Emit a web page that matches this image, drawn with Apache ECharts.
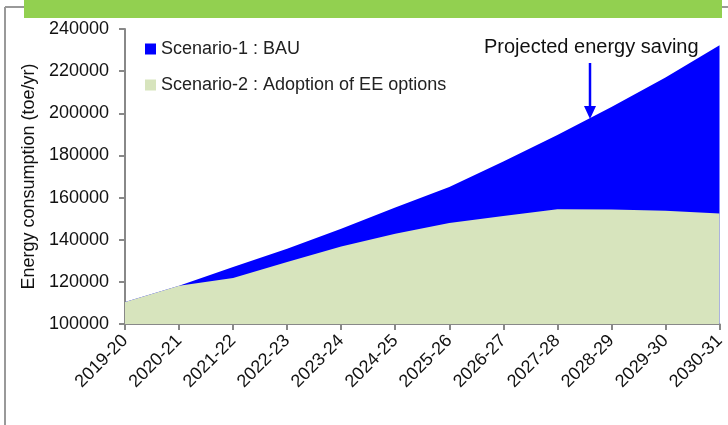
<!DOCTYPE html>
<html>
<head>
<meta charset="utf-8">
<script src="https://cdn.jsdelivr.net/npm/echarts@6/dist/echarts.min.js"></script>
<style>
  html, body { margin: 0; padding: 0; background: #fff; }
  #chart { width: 728px; height: 425px; }
</style>
</head>
<body>
<div id="chart"></div>
<script>
// data
const years = ['2019-20', '2020-21', '2021-22', '2022-23', '2023-24', '2024-25',
  '2025-26', '2026-27', '2027-28', '2028-29', '2029-30', '2030-31']
const bau = [110400, 118200, 127000, 135700, 145200, 155300,
  165000, 177100, 189700, 203000, 217000, 232300]
const eeOptions = [110400, 118200, 121800, 129400, 136800, 142800,
  147900, 151300, 154500, 154300, 153800, 152400]
const yTicks = [100000, 240000, 20000] // min, max, step

const font = 'Liberation Sans'
const chart = echarts.init(document.getElementById('chart'))

chart.setOption({
  animation: false,
  grid: { left: 125, right: 3, top: 29, bottom: 101 },
  legend: {
    orient: 'vertical',
    left: 140,
    top: 35,
    itemWidth: 11,
    itemHeight: 11,
    itemGap: 18,
    icon: 'rect',
    textStyle: { fontFamily: font, fontSize: 18, color: '#222' },
    data: ['Scenario-1 : BAU', 'Scenario-2 : Adoption of EE options'],
  },
  xAxis: {
    type: 'category',
    data: years,
    boundaryGap: false,
    axisLine: { lineStyle: { color: '#888', width: 2 } },
    axisTick: { show: true, length: 6, lineStyle: { color: '#888', width: 2 } },
    axisLabel: {
      rotate: 45,
      interval: 0,
      margin: 14,
      fontFamily: font,
      fontSize: 18,
      color: '#111',
    },
  },
  yAxis: {
    type: 'value',
    min: yTicks[0],
    max: yTicks[1],
    interval: yTicks[2],
    name: 'Energy consumption (toe/yr)',
    nameLocation: 'middle',
    nameGap: 86,
    nameTextStyle: { fontFamily: font, fontSize: 18, color: '#111' },
    axisLine: { show: true, lineStyle: { color: '#888', width: 2 } },
    axisTick: { show: true, length: 6, lineStyle: { color: '#888', width: 2 } },
    axisLabel: {
      fontFamily: font, fontSize: 18, color: '#111', margin: 16,
      formatter: v => String(v),
    },
    splitLine: { show: false },
  },
  series: [
    {
      name: 'Scenario-1 : BAU',
      type: 'line',
      data: bau,
      symbol: 'none',
      lineStyle: { width: 0 },
      itemStyle: { color: '#0000ff' },
      areaStyle: { color: '#0000ff', opacity: 1 },
    },
    {
      name: 'Scenario-2 : Adoption of EE options',
      type: 'line',
      data: eeOptions,
      symbol: 'none',
      lineStyle: { width: 0 },
      itemStyle: { color: '#d7e4bd' },
      areaStyle: { color: '#d7e4bd', opacity: 1 },
    },
  ],
  graphic: [
    // frame of the slide + green header strip
    { type: 'line', shape: { x1: 5, y1: 7, x2: 5, y2: 425 }, style: { stroke: '#999', lineWidth: 2 } },
    { type: 'line', shape: { x1: 5, y1: 7, x2: 728, y2: 7 }, style: { stroke: '#999', lineWidth: 2 } },
    { type: 'rect', shape: { x: 24, y: 0, width: 698, height: 18 }, style: { fill: '#92d050' }, z: 10 },
    // annotation
    {
      type: 'text',
      left: 484,
      top: 37,
      style: { text: 'Projected energy saving', font: '20px "Liberation Sans"', fill: '#111' },
    },
    { type: 'line', shape: { x1: 590, y1: 63, x2: 590, y2: 108 }, style: { stroke: '#0000ff', lineWidth: 2.5 }, z: 20 },
    { type: 'polygon', shape: { points: [[584, 106], [596, 106], [590, 119]] }, style: { fill: '#0000ff' }, z: 20 },
  ],
})
</script>
</body>
</html>
